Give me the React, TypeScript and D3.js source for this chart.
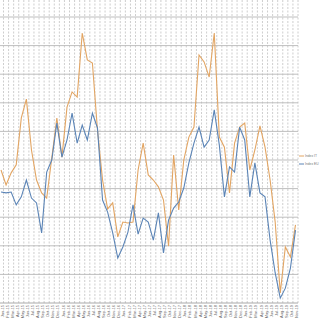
import React from "react";
import * as d3 from "d3";

const monthNames = ["Jan","Feb","Mar","Apr","May","Jun","Jul","Aug","Sep","Oct","Nov","Dec"];
const categories: string[] = [];
for (let i = 0; i < 59; i++) {
  const m = i % 12;
  const y = 15 + Math.floor(i / 12);
  categories.push(`${monthNames[m]}-${y}`);
}

const seriesOrange = [
  46.5, 41.3, 45.5, 48.3, 64.7, 71.3, 53.5, 43.0, 38.5, 36.7,
  50.7, 64.7, 51.0, 68.5, 73.8, 72.0, 94.4, 85.0, 83.9, 60.5,
  43.0, 32.9, 35.0, 23.1, 28.3, 28.0, 28.3, 46.5, 55.9, 44.8,
  43.0, 40.6, 36.0, 19.9, 51.7, 32.5, 50.0, 58.0, 61.5, 86.7,
  84.3, 79.0, 94.4, 58.0, 54.5, 38.5, 55.9, 61.5, 62.9, 46.5,
  53.5, 61.9, 54.5, 43.0, 28.3, 3.5, 19.6, 16.1, 27.3,
];
const seriesBlue = [
  38.8, 38.5, 38.8, 34.3, 37.1, 43.0, 36.7, 35.0, 24.5, 45.8,
  50.0, 62.9, 51.0, 57.0, 66.4, 55.9, 62.2, 57.0, 66.4, 61.2,
  36.0, 31.8, 24.5, 15.7, 19.6, 24.8, 34.3, 24.1, 29.7, 28.3,
  22.0, 31.5, 17.5, 29.0, 33.2, 35.3, 40.2, 49.0, 55.9, 61.5,
  54.5, 57.0, 67.5, 55.2, 37.1, 47.6, 45.8, 61.5, 57.0, 37.1,
  49.0, 38.5, 37.1, 22.0, 10.5, 1.7, 5.2, 12.2, 25.5,
];
const seriesNames = ["Index IT", "Index EU"];
const yTicks = [0, 10, 20, 30, 40, 50, 60, 70, 80, 90, 100];

const W = 320, H = 320;
const plotLeft = -2, plotRight = 298, plotBottom = 303, plotTop = 0;

export default function App() {
  const x = d3.scalePoint<string>().domain(categories).range([1, 295.5]);
  const y = d3.scaleLinear().domain([0, 100]).range([plotBottom, 17]);
  const line = d3.line<number>().x((_, i) => x(categories[i]) as number).y((d) => y(d));
  const colors = ["#E2A563", "#5B84B6"];
  return (
    <div style={{ position: "fixed", left: 0, top: 0 }}>
      <svg width={W} height={H} style={{ display: "block", background: "#fff" }}>
        {categories.map((c, i) => (
          <line key={"v" + i} x1={(x(c) as number) + 2.5} x2={(x(c) as number) + 2.5} y1={plotTop} y2={plotBottom}
            stroke="#c2c2c2" strokeWidth={0.8} strokeDasharray="2,1.5" />
        ))}
        {yTicks.map((t) => (
          <line key={"h" + t} x1={plotLeft} x2={plotRight} y1={y(t)} y2={y(t)} stroke={t === 0 ? "#a0a0a0" : "#b8b8b8"} strokeWidth={0.9} />
        ))}
        <path d={line(seriesOrange) || ""} fill="none" stroke={colors[0]} strokeWidth={1.1} />
        <path d={line(seriesBlue) || ""} fill="none" stroke={colors[1]} strokeWidth={1.1} />
        {categories.map((c) => (
          <text key={"t" + c} transform={`translate(${(x(c) as number) + 2.6},${plotBottom + 2}) rotate(-90)`}
            textAnchor="end" fontSize={4} fill="#666" fontFamily="Liberation Sans, Arial, sans-serif">{c}</text>
        ))}
        {seriesNames.map((n, i) => (
          <g key={n} transform={`translate(299,${156 + i * 8})`}>
            <line x1={0} x2={5} y1={0} y2={0} stroke={colors[i]} strokeWidth={1} />
            <text x={6} y={1.3} fontSize={3.3} fill="#777" fontFamily="Liberation Sans, Arial, sans-serif">{n}</text>
          </g>
        ))}
      </svg>
    </div>
  );
}
